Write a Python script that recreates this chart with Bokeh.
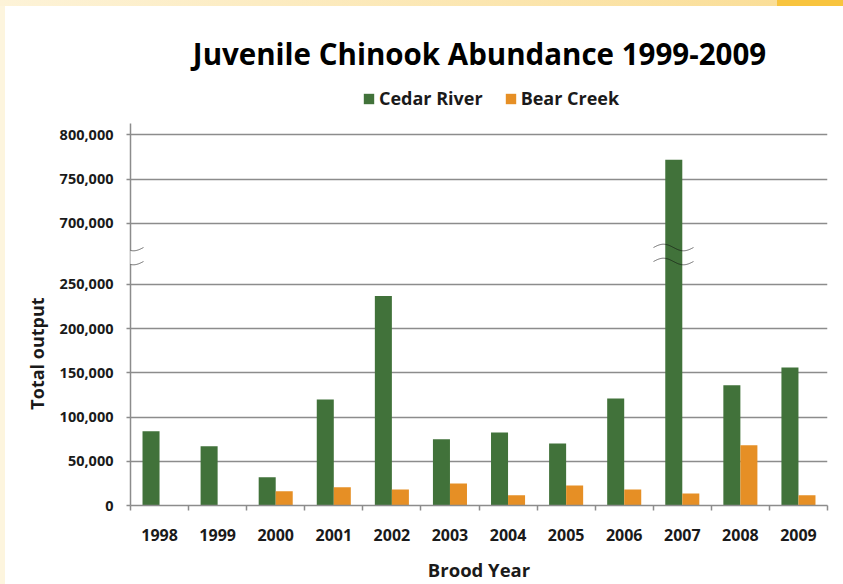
import numpy as np
from bokeh.plotting import figure
from bokeh.models import (FixedTicker, Legend, LegendItem, PolyAnnotation, Label)
from bokeh.embed import file_html
from bokeh.resources import INLINE

# ---------------- data ----------------
years = ["1998", "1999", "2000", "2001", "2002", "2003", "2004", "2005",
         "2006", "2007", "2008", "2009"]
cedar_river = [84000, 67000, 32000, 120000, 237000, 75000, 82500, 70000,
               121000, 772000, 136000, 156000]
bear_creek = [0, 0, 16000, 20500, 18000, 25000, 11500, 22500,
              18000, 13500, 68000, 11500]
y_tick_values = [0, 50000, 100000, 150000, 200000, 250000, 700000, 750000, 800000]

# ---------------- broken-axis mapping ----------------
GAP_SHIFT = 381000      # values of the upper segment are drawn shifted down by this


def to_display(v):
    return v if v <= 300000 else v - GAP_SHIFT


W, H = 843, 584
FL, FR, FB = 130, 827, 505          # frame edges in canvas px (frame top = 0)
AXIS_TOP = 123                      # top of the drawn y axis line
Y_AXIS_MAX = 432000
y_scale = Y_AXIS_MAX / (FB - AXIS_TOP)
x_scale = 12 / (FR - FL)


def cx(px):
    return (px - FL) * x_scale


def cy(py):
    return (FB - py) * y_scale


p = figure(width=W, height=H, output_backend="svg", toolbar_location=None,
           x_range=(0, 12), y_range=(0, cy(0)),
           min_border_left=FL, min_border_right=W - FR,
           min_border_top=0, min_border_bottom=H - FB)
p.background_fill_color = None
p.border_fill_color = None
p.outline_line_color = None
p.styles = {
    "background": ("linear-gradient(to right, #FDF3D8 0px, #FADE98 777px, "
                   "#F8C43E 777px, #F8C43E 100%) 0 0 / 100% 6px no-repeat, "
                   "linear-gradient(#FDF5DE, #FDF5DE) 0 0 / 5px 100% no-repeat, #ffffff")
}

GREEN = "#41723A"
ORANGE = "#E68F25"
GRID = "#8c8c8c"
TXT = "#1a1a1a"

# ---------------- bars ----------------
bw = 17 / 58
xc = np.arange(len(years)) + 0.5
r_cedar = p.vbar(x=xc - bw / 2, top=[to_display(v) for v in cedar_river], width=bw,
                 bottom=0, fill_color=GREEN, line_color=None)
r_bear = p.vbar(x=xc + bw / 2, top=[to_display(v) for v in bear_creek], width=bw,
                bottom=0, fill_color=ORANGE, line_color=None)

# ---------------- axes ----------------
p.xaxis.ticker = FixedTicker(ticks=list(xc), minor_ticks=list(range(0, 13)))
p.xaxis.major_label_overrides = {float(x): y for x, y in zip(xc, years)}
p.xaxis.major_tick_line_color = None
p.xaxis.major_tick_out = 0
p.xaxis.major_tick_in = 0
p.xaxis.minor_tick_line_color = GRID
p.xaxis.minor_tick_line_width = 1.5
p.xaxis.minor_tick_out = 5
p.xaxis.minor_tick_in = 0
p.xaxis.major_label_standoff = 18
p.xaxis.major_label_text_font = "Open Sans"
p.xaxis.major_label_text_font_style = "bold"
p.xaxis.major_label_text_font_size = "16px"
p.xaxis.major_label_text_color = TXT
p.xaxis.axis_line_color = GRID
p.xaxis.axis_line_width = 1.5
p.xaxis.axis_label = "Brood Year"
p.xaxis.axis_label_standoff = 13
p.xaxis.axis_label_text_font = "Open Sans"
p.xaxis.axis_label_text_font_style = "bold"
p.xaxis.axis_label_text_font_size = "18.5px"
p.xaxis.axis_label_text_color = TXT

disp_ticks = [to_display(v) for v in y_tick_values]
p.yaxis.ticker = FixedTicker(ticks=disp_ticks)
p.yaxis.bounds = (0, Y_AXIS_MAX)
p.yaxis.major_label_overrides = {d: f"{v:,}" for d, v in zip(disp_ticks, y_tick_values)}
p.yaxis.major_tick_line_color = GRID
p.yaxis.major_tick_line_width = 1.5
p.yaxis.major_tick_out = 4
p.yaxis.major_tick_in = 0
p.yaxis.minor_tick_line_color = None
p.yaxis.major_label_standoff = 13
p.yaxis.major_label_text_font = "Open Sans"
p.yaxis.major_label_text_font_style = "bold"
p.yaxis.major_label_text_font_size = "14.5px"
p.yaxis.major_label_text_color = TXT
p.yaxis.axis_line_color = GRID
p.yaxis.axis_line_width = 1.5
# the label is centred on the frame's middle; trailing no-break spaces push the
# visible words down to where the reference shows them
p.yaxis.axis_label = "Total output" + "\u00a0" * 43
p.yaxis.axis_label_standoff = 8
p.yaxis.axis_label_text_font = "Open Sans"
p.yaxis.axis_label_text_font_style = "bold"
p.yaxis.axis_label_text_font_size = "18px"
p.yaxis.axis_label_text_color = TXT

p.xgrid.grid_line_color = None
p.ygrid.grid_line_color = GRID
p.ygrid.grid_line_width = 1.5

# ---------------- break marks ----------------
t = np.linspace(0, 1, 40)
amp = 3.3 * y_scale
for x0 in (cx(103), cx(653)):
    xs = x0 + t * 40 * x_scale
    up = cy(247) + amp * np.sin(2 * np.pi * t)
    lo = cy(261) + amp * np.sin(2 * np.pi * t)
    if x0 < 0:
        p.add_layout(PolyAnnotation(xs=list(xs) + list(xs[::-1]),
                                    ys=list(up) + list(lo[::-1]),
                                    fill_color="white", fill_alpha=1.0,
                                    line_color=None))
    for yy in (up, lo):
        p.add_layout(PolyAnnotation(xs=list(xs) + list(xs[::-1]),
                                    ys=list(yy) + list(yy[::-1]),
                                    fill_alpha=0, line_color="#111111",
                                    line_width=1))

# ---------------- title ----------------
p.add_layout(Label(x=cx(479), y=cy(53), text="Juvenile Chinook Abundance 1999-2009",
                   text_font="Open Sans", text_font_style="bold",
                   text_font_size="29.5px", text_color="black",
                   text_align="center", text_baseline="alphabetic"))

# ---------------- legend ----------------
legend = Legend(items=[LegendItem(label="Cedar River", renderers=[r_cedar]),
                       LegendItem(label="Bear Creek", renderers=[r_bear])],
                orientation="horizontal", location=(362 - FL, FB - 110),
                glyph_width=13, glyph_height=13, label_standoff=4, spacing=21,
                padding=0, margin=0, border_line_color=None,
                background_fill_alpha=0,
                label_text_font="Open Sans", label_text_font_style="bold",
                label_text_font_size="18px", label_text_color=TXT)
p.add_layout(legend, "center")

open("out.html", "w").write(file_html(p, INLINE))
